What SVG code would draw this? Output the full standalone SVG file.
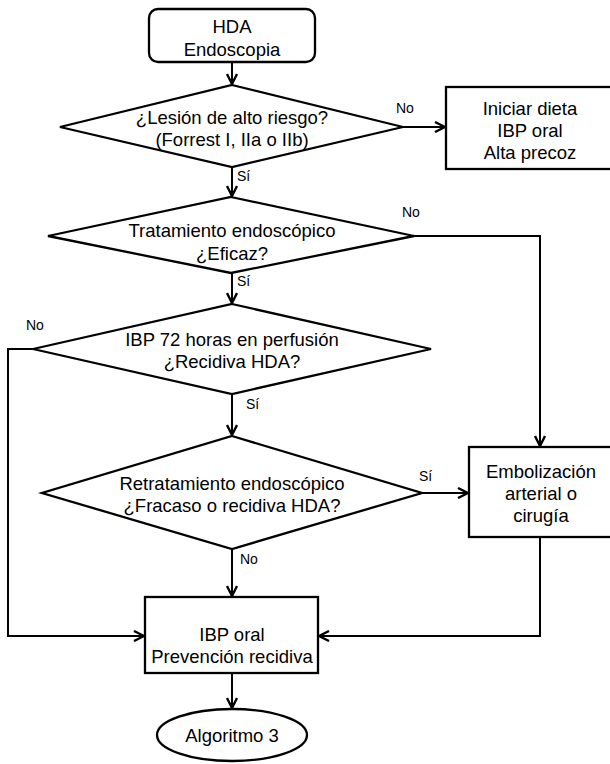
<svg xmlns="http://www.w3.org/2000/svg" width="610" height="764" viewBox="0 0 610 764">
<style>
.shape{fill:#fff;stroke:#000;stroke-width:2.3}
.t{font-family:"Liberation Sans",Arial,sans-serif;font-size:18.5px;fill:#000;text-anchor:middle}
.lbl{font-family:"Liberation Sans",Arial,sans-serif;font-size:14px;fill:#000}
.c{fill:none;stroke:#000;stroke-width:2}
</style>
<defs>
<marker id="ah" viewBox="0 0 12 12" markerWidth="12" markerHeight="12" refX="11" refY="6" orient="auto" markerUnits="userSpaceOnUse">
<path d="M1,1 L11,6 L1,11" fill="none" stroke="#000" stroke-width="2.4"/>
</marker>
</defs>
<rect width="610" height="764" fill="#fff"/>
<g id="connectors">
<path class="c" d="M232,62 V84" marker-end="url(#ah)"/>
<path class="c" d="M403,127 H445" marker-end="url(#ah)"/>
<path class="c" d="M232,167 V196" marker-end="url(#ah)"/>
<path class="c" d="M414,236 H540 V446" marker-end="url(#ah)"/>
<path class="c" d="M232,273 V303" marker-end="url(#ah)"/>
<path class="c" d="M33,349 H8 V636 H144" marker-end="url(#ah)"/>
<path class="c" d="M232,394 V435" marker-end="url(#ah)"/>
<path class="c" d="M422,493 H468" marker-end="url(#ah)"/>
<path class="c" d="M232,549 V596" marker-end="url(#ah)"/>
<path class="c" d="M540,537 V636 H319" marker-end="url(#ah)"/>
<path class="c" d="M232,673 V708" marker-end="url(#ah)"/>
<text class="lbl" x="396" y="113">No</text>
<text class="lbl" x="237" y="181">Sí</text>
<text class="lbl" x="402" y="217">No</text>
<text class="lbl" x="237" y="286">Sí</text>
<text class="lbl" x="26" y="330">No</text>
<text class="lbl" x="246" y="409">Sí</text>
<text class="lbl" x="419" y="481">Sí</text>
<text class="lbl" x="240" y="564">No</text>
</g>
<g id="start">
<rect class="shape" x="149" y="9" width="166" height="53" rx="9"/>
<text class="t" x="232" y="33">HDA</text>
<text class="t" x="232" y="56">Endoscopia</text>
</g>
<g id="d1">
<polygon class="shape" points="232,85 403,127 232,167 60,127"/>
<text class="t" x="232" y="124">¿Lesión de alto riesgo?</text>
<text class="t" x="232" y="146">(Forrest I, IIa o IIb)</text>
</g>
<g id="iniciar">
<rect class="shape" x="446" y="87" width="170" height="82"/>
<text class="t" x="530" y="115">Iniciar dieta</text>
<text class="t" x="530" y="137">IBP oral</text>
<text class="t" x="530" y="159">Alta precoz</text>
</g>
<g id="d2">
<polygon class="shape" points="231,197 414,236 231,273 48,236"/>
<text class="t" x="232" y="237">Tratamiento endoscópico</text>
<text class="t" x="232" y="260">¿Eficaz?</text>
</g>
<g id="d3">
<polygon class="shape" points="232,304 431,349 232,394 33,349"/>
<text class="t" x="232" y="346">IBP 72 horas en perfusión</text>
<text class="t" x="232" y="368">¿Recidiva HDA?</text>
</g>
<g id="d4">
<polygon class="shape" points="232,436 422,493 232,549 42,493"/>
<text class="t" x="232" y="490">Retratamiento endoscópico</text>
<text class="t" x="232" y="512">¿Fracaso o recidiva HDA?</text>
</g>
<g id="emb">
<rect class="shape" x="469" y="447" width="150" height="90"/>
<text class="t" x="541" y="478">Embolización</text>
<text class="t" x="541" y="500">arterial o</text>
<text class="t" x="541" y="522">cirugía</text>
</g>
<g id="ibp">
<rect class="shape" x="145" y="597" width="173" height="76"/>
<text class="t" x="232" y="641">IBP oral</text>
<text class="t" x="232" y="663">Prevención recidiva</text>
</g>
<g id="end">
<ellipse class="shape" cx="232" cy="735" rx="75" ry="26"/>
<text class="t" x="232" y="742">Algoritmo 3</text>
</g>
</svg>
